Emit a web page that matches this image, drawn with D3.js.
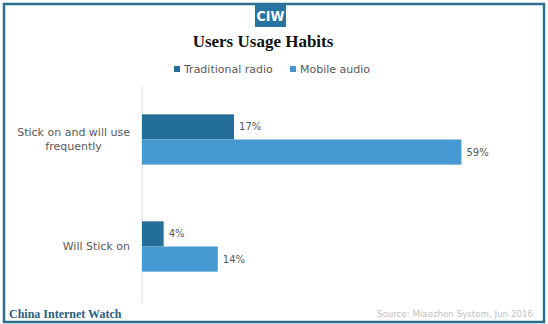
<!DOCTYPE html>
<html>
<head>
<meta charset="utf-8">
<script src="https://cdn.jsdelivr.net/npm/d3@7"></script>
<style>
  body { margin: 0; background: #fff; }
  svg { display: block; }
</style>
</head>
<body>
<svg id="chart"></svg>
<script>
// data
const categories = ["Stick on and will use frequently", "Will Stick on"];
const categoryLines = [["Stick on and will use", "frequently"], ["Will Stick on"]];
const seriesNames = ["Traditional radio", "Mobile audio"];
const traditionalRadio = [17, 4];
const mobileAudio = [59, 14];

const width = 548;
const height = 324;
const teal = "#2a6e8e";
const color = d3.scaleOrdinal().domain(seriesNames).range(["#236f98", "#4699d0"]);

var svg = d3.select("svg#chart").attr("width", width).attr("height", height);

// frame
svg.append("rect")
    .attr("x", 4).attr("y", 4)
    .attr("width", 540).attr("height", 318)
    .attr("fill", "none")
    .attr("stroke", teal)
    .attr("stroke-width", 2.5);

// logo
svg.append("rect")
    .attr("x", 255).attr("y", 4)
    .attr("width", 31).attr("height", 23)
    .attr("fill", "#2873a0");
svg.append("text")
    .attr("x", 270.5).attr("y", 21)
    .attr("text-anchor", "middle")
    .style("font-family", "'DejaVu Sans Condensed', 'DejaVu Sans'")
    .style("font-weight", "bold")
    .style("font-size", "14px")
    .attr("fill", "#fff")
    .text("CIW");

// title
svg.append("text")
    .attr("x", 263).attr("y", 47)
    .attr("text-anchor", "middle")
    .style("font-family", "'Liberation Serif'")
    .style("font-weight", "bold")
    .style("font-size", "17px")
    .attr("fill", "#111")
    .text("Users Usage Habits");

// legend
var legendX = [174, 290];
seriesNames.forEach(function(name, i) {
    svg.append("rect")
        .attr("x", legendX[i]).attr("y", 66)
        .attr("width", 6).attr("height", 6)
        .attr("fill", color(name));
    svg.append("text")
        .attr("x", legendX[i] + 10).attr("y", 73)
        .style("font-family", "'DejaVu Sans'")
        .style("font-size", "11px")
        .attr("fill", "#595959")
        .text(name);
});

// scales
var y = d3.scaleBand()
    .domain(categories)
    .range([86, 300])
    .paddingInner(0.53)
    .paddingOuter(0.265);

var ySub = d3.scaleBand()
    .domain(seriesNames)
    .range([0, y.bandwidth()]);

var x = d3.scaleLinear()
    .domain([0, 70])
    .range([142, 521]);

// axis line
svg.append("line")
    .attr("x1", x(0)).attr("x2", x(0))
    .attr("y1", 87).attr("y2", 303)
    .attr("stroke", "#d9d9d9")
    .attr("stroke-width", 1);

var rows = categories.map(function(c, i) {
    return [
        {cat: c, key: seriesNames[0], value: traditionalRadio[i]},
        {cat: c, key: seriesNames[1], value: mobileAudio[i]}
    ];
});

var groups = svg.append("g")
    .selectAll("g")
    .data(rows)
    .enter().append("g")
    .attr("transform", function(d) { return "translate(0," + y(d[0].cat) + ")"; });

groups.selectAll("rect")
    .data(function(d) { return d; })
    .enter().append("rect")
    .attr("x", x(0))
    .attr("y", function(d) { return ySub(d.key); })
    .attr("width", function(d) { return x(d.value) - x(0); })
    .attr("height", ySub.bandwidth())
    .attr("fill", function(d) { return color(d.key); });

groups.selectAll("text")
    .data(function(d) { return d; })
    .enter().append("text")
    .attr("x", function(d) { return x(d.value) + 5; })
    .attr("y", function(d) { return ySub(d.key) + ySub.bandwidth() / 2; })
    .attr("dy", "0.35em")
    .style("font-family", "'DejaVu Sans'")
    .style("font-size", "10px")
    .attr("fill", "#595959")
    .text(function(d) { return d.value + "%"; });

// category labels, wrapped lines centred inside a right-aligned block
categories.forEach(function(c, i) {
    var lines = categoryLines[i];
    var t = svg.append("text")
        .style("font-family", "'DejaVu Sans'")
        .style("font-size", "11px")
        .attr("fill", "#595959");
    lines.forEach(function(l) { t.append("tspan").text(l); });
    var maxW = 0;
    t.selectAll("tspan").each(function() {
        maxW = Math.max(maxW, this.getComputedTextLength());
    });
    var cx = 130 - maxW / 2;
    var cy = y(c) + y.bandwidth() / 2;
    var lh = 14;
    t.attr("text-anchor", "middle");
    t.selectAll("tspan")
        .attr("x", cx)
        .attr("y", function(d, j) { return cy + (j - (lines.length - 1) / 2) * lh; })
        .attr("dy", "0.35em");
});

// footer
svg.append("text")
    .attr("x", 9).attr("y", 318)
    .style("font-family", "'Liberation Serif'")
    .style("font-weight", "bold")
    .style("font-size", "12px")
    .attr("fill", "#2a5f7f")
    .text("China Internet Watch");

svg.append("text")
    .attr("x", 533).attr("y", 317)
    .attr("text-anchor", "end")
    .style("font-family", "'DejaVu Sans'")
    .style("font-size", "8.7px")
    .attr("fill", "#bfbfbf")
    .text("Source: Miaozhen System, Jun 2016");
</script>
</body>
</html>
